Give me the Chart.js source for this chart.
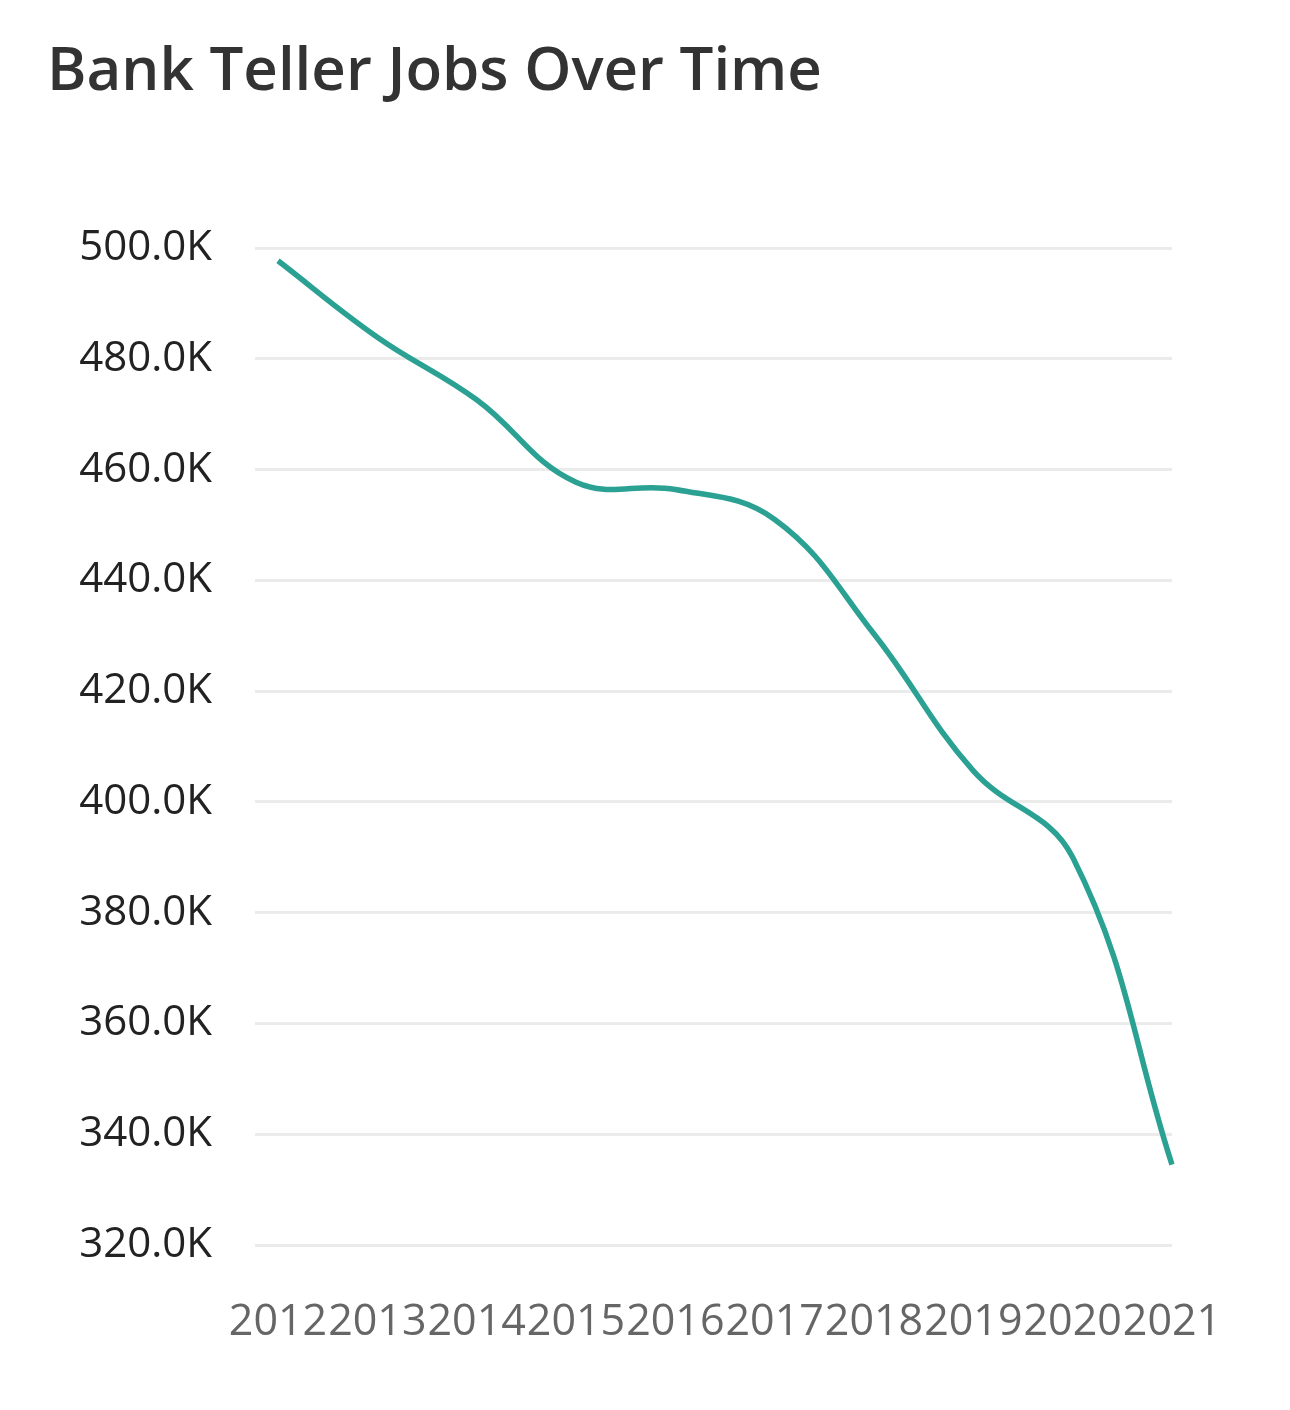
<!DOCTYPE html>
<html>
<head>
<meta charset="utf-8">
<script src="https://cdn.jsdelivr.net/npm/chart.js@4/dist/chart.umd.min.js"></script>
<style>
  html, body { margin: 0; padding: 0; background: #fff; }
  #wrap { position: relative; width: 1290px; height: 1410px; }
  #title {
    position: absolute; left: 47px; top: 37px; margin: 0;
    font: 600 60px/60px "Open Sans", sans-serif; color: #333;
    white-space: nowrap;
  }
  #chart { position: absolute; left: 0; top: 0; }
</style>
</head>
<body>
<div id="wrap">
  <h1 id="title">Bank Teller Jobs Over Time</h1>
  <canvas id="chart" width="1290" height="1410"></canvas>
</div>
<script>
// data
const years = ["2012", "2013", "2014", "2015", "2016", "2017", "2018", "2019", "2020", "2021"];
const tellerJobs = [497700, 483900, 472600, 457700, 456400, 451000, 430300, 405600, 390000, 334500];

const yMin = 320000;
const yMax = 500000;
const yStep = 20000;

const ctx = document.getElementById("chart").getContext("2d");

new Chart(ctx, {
	type: "line",
	data: {
		labels: years,
		datasets: [
			{
				label: "Bank tellers",
				data: tellerJobs,
				borderColor: "#2ba193",
				borderWidth: 5.5,
				pointRadius: 0,
				tension: 0.4,
				fill: false,
			},
		],
	},
	options: {
		responsive: false,
		animation: false,
		layout: {
			padding: { top: 248, right: 118, bottom: 0, left: 0 },
		},
		plugins: {
			legend: { display: false },
			tooltip: { enabled: false },
		},
		scales: {
			x: {
				grid: { display: false, drawTicks: false },
				border: { display: false },
				ticks: {
					color: "#666",
					padding: 52,
					maxRotation: 0,
					autoSkip: false,
					font: { family: "Open Sans", size: 43 },
				},
				afterFit: (scale) => {
					scale.height = 165;
				},
			},
			y: {
				min: yMin,
				max: yMax,
				grid: {
					color: "#ebebeb",
					lineWidth: 3,
					tickLength: 23,
					tickColor: "#ebebeb",
				},
				border: { display: false },
				ticks: {
					stepSize: yStep,
					color: "#222",
					padding: 43,
					font: { family: "Open Sans", size: 42 },
					callback: (v) => (v / 1000).toFixed(1) + "K",
				},
				afterFit: (scale) => {
					scale.width = 278;
				},
			},
		},
	},
});
</script>
</body>
</html>
